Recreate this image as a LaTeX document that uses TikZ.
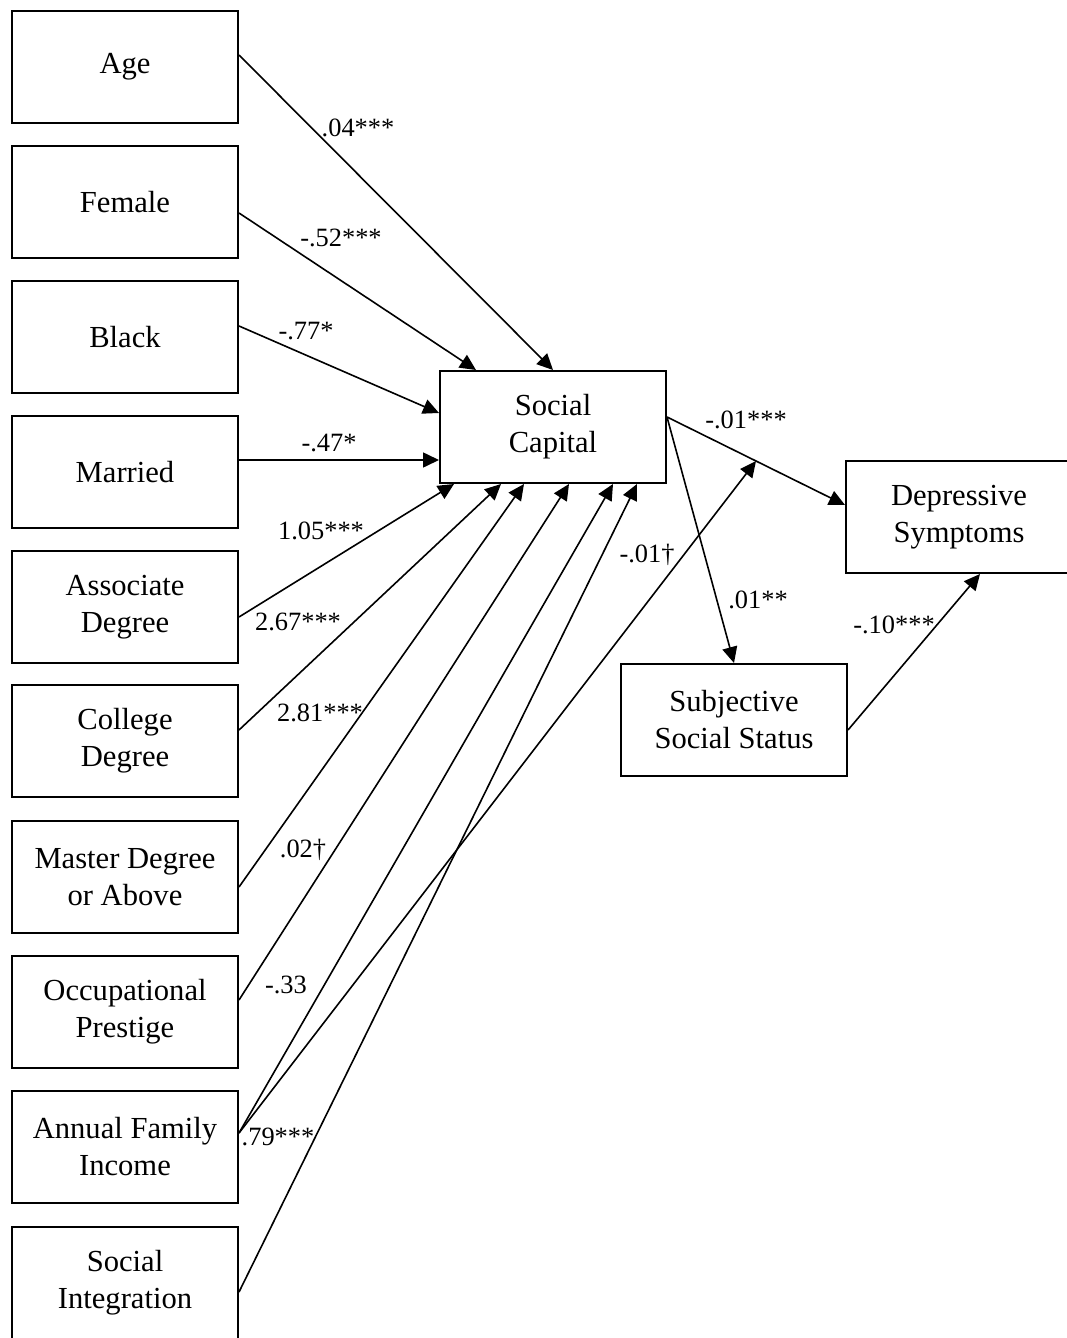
\documentclass[tikz,border=0pt]{standalone}
\usepackage{fontspec}
\setmainfont{Liberation Serif}
\usetikzlibrary{arrows.meta}
\tikzset{
  var/.style={draw, line width=1pt, minimum width=113pt, minimum height=56pt,
    align=center, inner sep=2pt, font=\fontsize{15.3}{18.5}\selectfont},
  coef/.style={inner sep=0pt, font=\fontsize{13.2}{15}\selectfont},
  path/.style={line width=0.8pt, -{Triangle[length=8pt,width=7.5pt]}}
}
\begin{document}
\begin{tikzpicture}[x=0.5pt, y=-0.5pt]
      \useasboundingbox (0,0) rectangle (1066,1338);
      \draw
        (125,67) node[var] (age){Age}
        (125,202) node[var] (fem){Female}
        (125,337) node[var] (blk){Black}
        (125,472) node[var] (mar){Married}
        (125,607) node[var] (asc){Associate\\Degree}
        (125,741) node[var] (col){College\\Degree}
        (125,877) node[var] (mst){Master Degree\\or Above}
        (125,1012) node[var] (occ){Occupational\\Prestige}
        (125,1147) node[var] (inc){Annual Family\\Income}
        (125,1283) node[var] (int){Social\\Integration}
        (553,427) node[var] (sc){Social\\Capital}
        (959,517) node[var] (dep){Depressive\\Symptoms}
        (734,720) node[var] (sss){Subjective\\Social Status};
      \path ([yshift=5pt]sc.east) -- coordinate[pos=0.5] (m) ([yshift=6pt]dep.west);
      \begin{scope}[path]
        \draw ([yshift=6pt]age.east) to (sc.north);
        \draw ([yshift=-5.5pt]fem.east) to ([xshift=18.5pt]sc.north west);
        \draw ([yshift=5.5pt]blk.east) to ([yshift=7pt]sc.west);
        \draw ([yshift=6pt]mar.east) to ([yshift=-16.5pt]sc.west);
        \draw ([yshift=-5pt]asc.east) to ([xshift=7.5pt]sc.south west);
        \draw ([yshift=5.5pt]col.east) to ([xshift=31pt]sc.south west);
        \draw ([yshift=-5pt]mst.east) to ([xshift=42.5pt]sc.south west);
        \draw ([yshift=6pt]occ.east) to ([xshift=65pt]sc.south west);
        \draw ([yshift=7pt]inc.east) to ([xshift=87pt]sc.south west);
        \draw ([yshift=7pt]inc.east) to (m);
        \draw ([yshift=-4.5pt]int.east) to ([xshift=99pt]sc.south west);
        \draw ([yshift=5pt]sc.east) to ([yshift=6pt]dep.west);
        \draw ([yshift=5pt]sc.east) to (sss.north);
        \draw ([yshift=-5pt]sss.east) to ([xshift=10.5pt]dep.south);
      \end{scope}
      % coefficients
      \node[coef] (c1) at (358,128) {.04***};
      \node[coef] (c2) at (341,238) {-.52***};
      \node[coef] (c3) at (306,331) {-.77*};
      \node[coef] (c4) at (329,443) {-.47*};
      \node[coef] (c5) at (321,531) {1.05***};
      \node[coef] (c6) at (298,622) {2.67***};
      \node[coef] (c7) at (320,713) {2.81***};
      \node[coef] (c8) at (303,850) {.02†};
      \node[coef] (c9) at (286,985) {-.33};
      \node[coef] (c10) at (278,1137) {.79***};
      \node[coef] (c11) at (746,420) {-.01***};
      \node[coef] (c12) at (647,555) {-.01†};
      \node[coef] (c13) at (758,600) {.01**};
      \node[coef] (c14) at (894,625) {-.10***};
    \end{tikzpicture}
\end{document}
